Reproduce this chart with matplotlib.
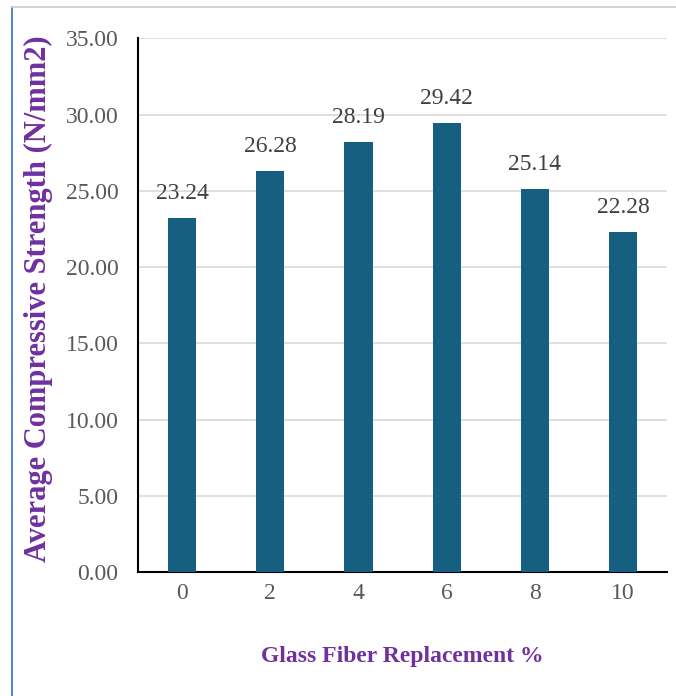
import matplotlib.pyplot as plt
from matplotlib import lines

# compressive strength vs glass fibre content
fiber_pct = ['0', '2', '4', '6', '8', '10']
strength = [23.24, 26.28, 28.19, 29.42, 25.14, 22.28]
y_ticks = [0, 5, 10, 15, 20, 25, 30, 35]

bar_color = '#175F80'
purple = '#7030A0'
tick_gray = '#595959'

plt.rcParams['font.family'] = ['Liberation Serif', 'DejaVu Serif']

fig = plt.figure(figsize=(6.76, 6.96), dpi=100)
ax = fig.add_axes([0.204, 0.178, 0.783, 0.767])

x = range(len(fiber_pct))
bars = ax.bar(x, strength, width=0.32, color=bar_color, zorder=3)

for b, v in zip(bars, strength):
    ax.annotate(f'{v:.2f}', (b.get_x() + b.get_width() / 2, v),
                xytext=(0, 10), textcoords='offset points',
                ha='center', va='bottom', fontsize=17, color='#404040')

ax.set_xlim(-0.5, len(fiber_pct) - 0.5)
ax.set_ylim(0, 35)
ax.set_yticks(y_ticks)
ax.set_yticklabels([f'{t:.2f}' for t in y_ticks])
ax.set_xticks(list(x))
ax.set_xticklabels(fiber_pct)
ax.tick_params(axis='y', length=0, pad=14, labelsize=17, labelcolor=tick_gray)
ax.tick_params(axis='x', length=0, pad=8, labelsize=17, labelcolor=tick_gray)

ax.grid(axis='y', color='#D9D9D9', linewidth=1.2, zorder=0)
for s in ['top', 'right']:
    ax.spines[s].set_visible(False)
ax.spines['left'].set_color('black')
ax.spines['bottom'].set_color('black')
ax.spines['left'].set_linewidth(1.5)
ax.spines['bottom'].set_linewidth(1.5)

ax.set_xlabel('Glass Fiber Replacement %', fontsize=17, fontweight='bold',
              color=purple, labelpad=30)
ax.set_ylabel('Average Compressive Strength (N/mm2)', fontsize=22,
              fontweight='bold', color=purple)
ax.yaxis.set_label_coords(-0.16, 0.512)

# frame lines around the figure
fig.add_artist(lines.Line2D([12 / 676, 12 / 676], [0, 1 - 7 / 696],
                            color='#2E75B6', linewidth=1.2))
fig.add_artist(lines.Line2D([12 / 676, 1], [1 - 7 / 696, 1 - 7 / 696],
                            color='#C8CDD2', linewidth=1.2))

fig.savefig('out.png', dpi=100)
